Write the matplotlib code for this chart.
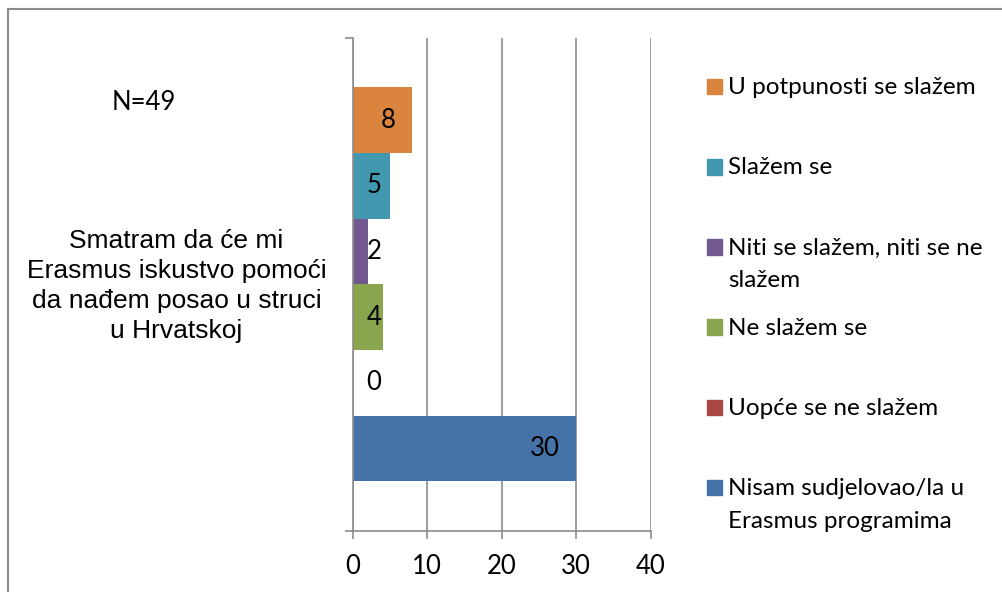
import numpy as np
import matplotlib.pyplot as plt
from matplotlib.patches import Rectangle

categories = ['U potpunosti se slažem', 'Slažem se', 'Niti se slažem, niti se ne\nslažem',
              'Ne slažem se', 'Uopće se ne slažem', 'Nisam sudjelovao/la u\nErasmus programima']
values = [8, 5, 2, 4, 0, 30]
colors = ['#DB843D', '#4198AF', '#71588F', '#89A54E', '#AA4643', '#4572A7']
question = 'Smatram da će mi\nErasmus iskustvo pomoći\nda nađem posao u struci\nu Hrvatskoj'
n_label = 'N=49'
xticks = [0, 10, 20, 30, 40]

W, H = 1002, 592
plt.rcParams['font.family'] = ['Lato', 'DejaVu Sans']
fig = plt.figure(figsize=(W / 100, H / 100), dpi=100)
ax = fig.add_axes([352.7 / W, 1 - 530.7 / H, 298 / W, 492.7 / H])

grid_c = '#8C8C8C'
fs = 18.5
pos = np.arange(len(values))
ax.barh(pos, values, height=1.0, color=colors, zorder=2)
ax.set_ylim(len(values) - 0.5 + 0.75, -0.5 - 0.75)
ax.set_xlim(0, 40)
ax.set_xticks(xticks)
ax.set_xticklabels([str(t) for t in xticks], fontsize=fs)
ax.set_yticks(ax.get_ylim())
ax.set_yticklabels([])
ax.grid(axis='x', color=grid_c, linewidth=1.2, zorder=0)
for s in ['top', 'right']:
    ax.spines[s].set_visible(False)
for s in ['left', 'bottom']:
    ax.spines[s].set_color(grid_c)
    ax.spines[s].set_linewidth(1.2)
ax.tick_params(axis='x', length=5.5, width=1.2, color=grid_c, pad=11)
ax.tick_params(axis='y', length=6, width=1.2, color=grid_c)

# value labels, inside end like Excel
for p, v in zip(pos, values):
    ax.annotate(str(v), xy=(max(v, 6.1), p), xytext=(-12, 0), textcoords='offset points',
                ha='right', va='center', fontsize=fs, color='black', zorder=3)

# left texts
fig.text(144 / W, 1 - 103 / H, n_label, ha='center', va='center', fontsize=fs)
fig.text(176.5 / W, 1 - 286 / H, question, ha='center', va='center', fontsize=19,
         family=['Liberation Sans', 'DejaVu Sans'], linespacing=1.3)

# legend drawn by hand
base0, step, line_h = 94.3, 80.2, 32.5
for i, (lab, c) in enumerate(zip(categories, colors)):
    b = base0 + i * step
    fig.patches.append(Rectangle((707 / W, 1 - b / H), 15 / W, 15.5 / H,
                                 transform=fig.transFigure, color=c))
    for k, line in enumerate(lab.split('\n')):
        fig.text(728 / W, 1 - (b + k * line_h) / H, line, ha='left', va='baseline',
                 fontsize=17.5)

# chart border (cut at right/bottom)
fig.patches.append(Rectangle((8 / W, -0.1), 1.2, 1.1 - 9 / H, transform=fig.transFigure,
                             fill=False, edgecolor='#8C8C8C', linewidth=1.5))

fig.savefig('out.png', dpi=100)
